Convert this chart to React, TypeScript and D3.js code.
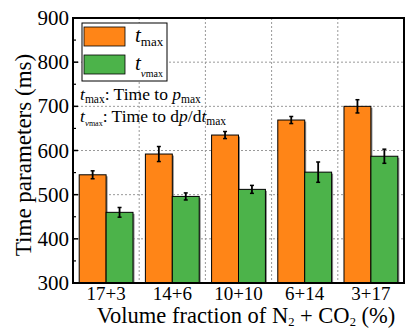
import { useRef, useEffect } from 'react';
import * as d3 from 'd3';

const categories: string[] = ['17+3', '14+6', '10+10', '6+14', '3+17'];
const seriesKeys: string[] = ['tmax', 'tvmax'];
const tmaxValues: number[] = [545, 592, 635, 669, 700];
const tmaxErrors: number[] = [9, 17, 8, 8, 15];
const tvmaxValues: number[] = [460, 496, 512, 551, 587];
const tvmaxErrors: number[] = [11, 8, 9, 23, 16];
const yTicks: number[] = [300, 400, 500, 600, 700, 800, 900];
const yMinorTicks: number[] = [350, 450, 550, 650, 750, 850];

const colors: Record<string, string> = { tmax: '#ff8517', tvmax: '#4cb34a' };
const FONT = '"Liberation Serif", "DejaVu Serif", serif';

export default function App() {
  const ref = useRef<SVGSVGElement | null>(null);

  useEffect(() => {
    if (!ref.current) return;
    const W = 405, H = 329;
    const left = 73, right = 404, top = 18, bottom = 283;

    const svg = d3.select(ref.current).attr('width', W).attr('height', H);
    svg.selectAll('*').remove();

    const x = d3.scaleBand<string>().domain(categories).range([left, right]);
    const xs = d3.scaleBand<string>().domain(seriesKeys)
      .range([0, x.bandwidth()]).paddingOuter(0.23).paddingInner(0);
    const y = d3.scaleLinear().domain([300, 900]).range([bottom, top]);

    // grid
    svg.append('g').selectAll('line')
      .data(yTicks.slice(1, -1))
      .enter().append('line')
      .attr('x1', left).attr('x2', right)
      .attr('y1', (d) => y(d)).attr('y2', (d) => y(d))
      .attr('stroke', '#999').attr('stroke-width', 1).attr('stroke-dasharray', '2,2');
    svg.append('g').selectAll('line')
      .data(categories.slice(1))
      .enter().append('line')
      .attr('x1', (d) => x(d) || 0).attr('x2', (d) => x(d) || 0)
      .attr('y1', top).attr('y2', bottom)
      .attr('stroke', '#999').attr('stroke-width', 1).attr('stroke-dasharray', '2,2');

    const rows = categories.map((c, i) => ({
      c,
      bars: [
        { key: 'tmax', v: tmaxValues[i], e: tmaxErrors[i] },
        { key: 'tvmax', v: tvmaxValues[i], e: tvmaxErrors[i] },
      ],
    }));

    const groups = svg.append('g').selectAll('g')
      .data(rows)
      .enter().append('g')
      .attr('transform', (d) => `translate(${x(d.c)},0)`);

    // bar shadows
    groups.selectAll('rect.shadow')
      .data((d) => d.bars)
      .enter().append('rect')
      .attr('class', 'shadow')
      .attr('x', (d) => (xs(d.key) || 0) + 1.5)
      .attr('y', (d) => y(d.v) + 1.5)
      .attr('width', xs.bandwidth())
      .attr('height', (d) => bottom - y(d.v) - 1.5)
      .attr('fill', '#888');

    groups.selectAll('rect.bar')
      .data((d) => d.bars)
      .enter().append('rect')
      .attr('class', 'bar')
      .attr('x', (d) => xs(d.key) || 0)
      .attr('y', (d) => y(d.v))
      .attr('width', xs.bandwidth())
      .attr('height', (d) => bottom - y(d.v))
      .attr('fill', (d) => colors[d.key])
      .attr('stroke', '#000').attr('stroke-width', 1);

    // error bars
    const eb = groups.selectAll('g.err')
      .data((d) => d.bars)
      .enter().append('g')
      .attr('class', 'err')
      .attr('transform', (d) => `translate(${(xs(d.key) || 0) + xs.bandwidth() / 2},0)`);
    eb.append('line')
      .attr('x1', 0).attr('x2', 0)
      .attr('y1', (d) => y(d.v - d.e)).attr('y2', (d) => y(d.v + d.e))
      .attr('stroke', '#000').attr('stroke-width', 1.8);
    [(d: any) => y(d.v - d.e), (d: any) => y(d.v + d.e)].forEach((fy) => {
      eb.append('line')
        .attr('x1', -2).attr('x2', 2)
        .attr('y1', fy).attr('y2', fy)
        .attr('stroke', '#000').attr('stroke-width', 1.5);
    });

    // frame
    svg.append('rect')
      .attr('x', left).attr('y', top)
      .attr('width', right - left).attr('height', bottom - top)
      .attr('fill', 'none').attr('stroke', '#000').attr('stroke-width', 2);

    // y ticks (inside)
    svg.append('g').selectAll('line')
      .data(yTicks)
      .enter().append('line')
      .attr('x1', left).attr('x2', left + 5)
      .attr('y1', (d) => y(d)).attr('y2', (d) => y(d))
      .attr('stroke', '#000').attr('stroke-width', 1.5);
    svg.append('g').selectAll('line')
      .data(yMinorTicks)
      .enter().append('line')
      .attr('x1', left).attr('x2', left + 3)
      .attr('y1', (d) => y(d)).attr('y2', (d) => y(d))
      .attr('stroke', '#000').attr('stroke-width', 1.2);

    svg.append('g').selectAll('text')
      .data(yTicks)
      .enter().append('text')
      .text((d) => String(d))
      .attr('x', left - 4)
      .attr('y', (d) => y(d) + 7)
      .attr('text-anchor', 'end')
      .attr('font-family', FONT).attr('font-size', '21px').attr('fill', '#000');

    svg.append('g').selectAll('text')
      .data(categories)
      .enter().append('text')
      .text((d) => d)
      .attr('x', (d) => (x(d) || 0) + x.bandwidth() / 2)
      .attr('y', 300)
      .attr('text-anchor', 'middle')
      .attr('font-family', FONT).attr('font-size', '19px').attr('fill', '#000');

    // axis titles
    svg.append('text')
      .attr('transform', `translate(31,155) rotate(-90)`)
      .attr('text-anchor', 'middle')
      .attr('font-family', FONT).attr('font-size', '23px')
      .text('Time parameters (ms)');

    const xt = svg.append('text')
      .attr('x', 246).attr('y', 323)
      .attr('text-anchor', 'middle')
      .attr('font-family', FONT).attr('font-size', '22.5px');
    xt.append('tspan').text('Volume fraction of N');
    xt.append('tspan').attr('font-size', '12.5px').attr('dy', 3).text('2');
    xt.append('tspan').attr('dy', -3).text(' + CO');
    xt.append('tspan').attr('font-size', '12.5px').attr('dy', 3).text('2');
    xt.append('tspan').attr('dy', -3).text(' (%)');

    // legend
    const lg = svg.append('g');
    lg.append('rect')
      .attr('x', 82).attr('y', 23).attr('width', 85).attr('height', 58)
      .attr('fill', '#fff').attr('stroke', '#000').attr('stroke-width', 1);
    seriesKeys.forEach((k, i) => {
      const yy = 27 + i * 28;
      lg.append('rect')
        .attr('x', 84).attr('y', yy).attr('width', 41).attr('height', 19)
        .attr('fill', colors[k]).attr('stroke', '#000').attr('stroke-width', 0.8);
      const t = lg.append('text')
        .attr('x', 135).attr('y', yy + 15)
        .attr('font-family', FONT).attr('font-size', '21px');
      t.append('tspan').attr('font-style', 'italic').text('t');
      if (k === 'tmax') {
        t.append('tspan').attr('font-size', '13px').attr('dy', 4).text('max');
      } else {
        t.append('tspan').attr('font-size', '11px').attr('dy', 7).attr('font-style', 'italic').text('v');
        t.append('tspan').attr('font-size', '10px').text('max');
      }
    });

    // annotations
    const a1 = svg.append('text')
      .attr('x', 80).attr('y', 100)
      .attr('font-family', FONT).attr('font-size', '17.5px');
    a1.append('tspan').attr('font-style', 'italic').text('t');
    a1.append('tspan').attr('font-size', '11.5px').attr('dy', 3).text('max');
    a1.append('tspan').attr('dy', -3).text(': Time to ');
    a1.append('tspan').attr('font-style', 'italic').text('p');
    a1.append('tspan').attr('font-size', '11.5px').attr('dy', 3).text('max');

    const a2 = svg.append('text')
      .attr('x', 80).attr('y', 122)
      .attr('font-family', FONT).attr('font-size', '17.5px');
    a2.append('tspan').attr('font-style', 'italic').text('t');
    a2.append('tspan').attr('font-size', '9px').attr('dy', 4).attr('font-style', 'italic').text('v');
    a2.append('tspan').attr('font-size', '8px').text('max');
    a2.append('tspan').attr('dy', -4).text(': Time to d');
    a2.append('tspan').attr('font-style', 'italic').text('p');
    a2.append('tspan').text('/d');
    a2.append('tspan').attr('font-style', 'italic').text('t');
    a2.append('tspan').attr('font-size', '11.5px').attr('dy', 3).text('max');
  }, []);

  return (
    <div style={{ position: 'absolute', left: 0, top: 0 }}>
      <svg ref={ref} style={{ display: 'block' }}></svg>
    </div>
  );
}
